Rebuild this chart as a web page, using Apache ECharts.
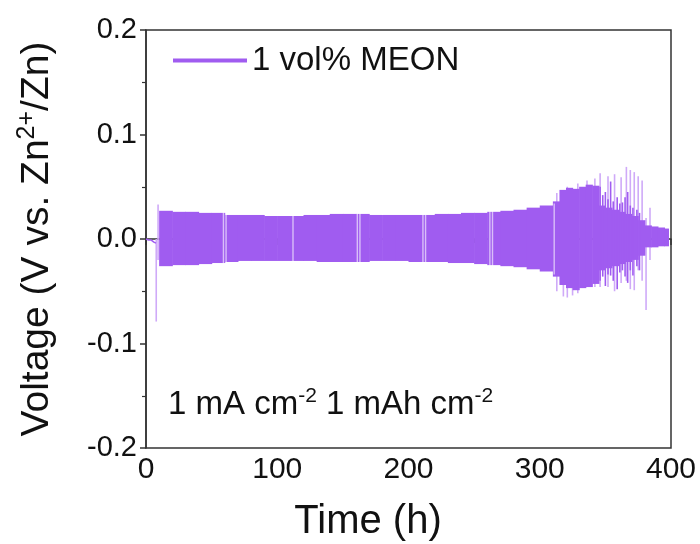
<!DOCTYPE html>
<html><head><meta charset="utf-8">
<script src="https://cdn.jsdelivr.net/npm/echarts@6/dist/echarts.min.js"></script>
<style>html,body{margin:0;padding:0;background:#fff}#c{width:700px;height:544px}</style>
</head><body><div id="c"></div>
<script>
// ---- data ----
const seriesName = '1 vol% MEON';
const xTicks = [0, 100, 200, 300, 400];
const yTicks = [-0.2, -0.1, 0.0, 0.1, 0.2];
// initial rest segment (time h, voltage V)
const initT = [0, 2, 4, 6, 7.6];
const initV = [0.000, -0.001, -0.001, -0.003, -0.004];
// envelope of the cycling band: bin edges (h), upper / lower voltage per bin (V)
const bandT = [10,20,30,40,50,60,70,80,90,100,110,120,130,140,150,160,170,180,190,200,210,220,230,240,250,260,270,280,290,300,310,315,320,325,330,335,340,345,350,355,360,365,370,375,380,385,390,395,398];
const bandHi = [0.027,0.026,0.026,0.025,0.025,0.023,0.023,0.023,0.022,0.022,0.022,0.023,0.023,0.024,0.024,0.024,0.023,0.023,0.023,0.023,0.023,0.024,0.024,0.025,0.025,0.026,0.027,0.028,0.030,0.032,0.036,0.047,0.049,0.048,0.050,0.052,0.051,0.032,0.030,0.028,0.026,0.024,0.022,0.018,0.013,0.012,0.011,0.010];
const bandLo = [-0.026,-0.025,-0.025,-0.024,-0.023,-0.022,-0.021,-0.021,-0.021,-0.021,-0.021,-0.021,-0.022,-0.022,-0.022,-0.022,-0.021,-0.021,-0.021,-0.022,-0.022,-0.022,-0.023,-0.023,-0.024,-0.025,-0.026,-0.027,-0.029,-0.031,-0.036,-0.044,-0.047,-0.049,-0.047,-0.046,-0.043,-0.030,-0.028,-0.026,-0.024,-0.022,-0.020,-0.016,-0.008,-0.008,-0.007,-0.007];
// isolated dark cycles (time, high, low)
const darkT  = [346, 348, 350, 352, 354, 356, 359, 361, 363, 365, 367, 369, 371, 374, 376];
const darkHi = [0.050, 0.042, 0.045, 0.038, 0.055, 0.036, 0.040, 0.034, 0.035, 0.040, 0.045, 0.032, 0.030, 0.028, 0.025];
const darkLo = [-0.040, -0.036, -0.045, -0.034, -0.035, -0.040, -0.048, -0.032, -0.030, -0.036, -0.042, -0.030, -0.035, -0.026, -0.030];
// isolated light spikes (time, high, low)
const spikeT  = [7.8, 9.2, 313, 318, 321, 325, 329, 336, 342, 346, 352, 357, 362, 366, 369, 372, 375, 378, 381, 384];
const spikeHi = [0.000, 0.033, 0.044, 0.040, 0.050, 0.045, 0.053, 0.056, 0.058, 0.063, 0.060, 0.062, 0.059, 0.069, 0.066, 0.064, 0.060, 0.056, 0.020, 0.030];
const spikeLo = [-0.079, -0.020, -0.050, -0.055, -0.056, -0.054, -0.052, -0.045, -0.046, -0.046, -0.046, -0.050, -0.042, -0.040, -0.048, -0.049, -0.030, -0.040, -0.068, -0.020];
// interruptions in the band (time h)
const gapT = [59, 61, 112, 161, 163, 211, 213, 262, 264, 311];

// ---- chart ----
const FONT = "'Liberation Sans', Arial, sans-serif";
const MAIN = '#a05cf0';
const LIGHT = '#cfaaf8';

const bandData = bandHi.map((h, i) => [bandT[i], bandT[i + 1], h, bandLo[i]]);
const darkData = darkT.map((t, i) => [t, darkHi[i], darkLo[i]]);
const spikeData = spikeT.map((t, i) => [t, spikeHi[i], spikeLo[i]]);
const gapData = gapT.map(t => [t, 0.034, -0.034]);
const initData = initT.map((t, i) => [t, initV[i]]);

function vline(color, width) {
  return function (params, api) {
    const a = api.coord([api.value(0), api.value(1)]);
    const b = api.coord([api.value(0), api.value(2)]);
    return { type: 'line', shape: { x1: a[0], y1: a[1], x2: b[0], y2: b[1] },
      style: { stroke: color, lineWidth: width } };
  };
}

const chart = echarts.init(document.getElementById('c'), null, { renderer: 'canvas' });
chart.setOption({
  animation: false,
  backgroundColor: '#fff',
  grid: { left: 146, right: 29, top: 30, bottom: 96, show: true, borderColor: '#333', borderWidth: 1.5, backgroundColor: 'transparent' },
  legend: {
    data: [seriesName], left: 173, top: 44, padding: 0, icon: 'rect', itemWidth: 74, itemHeight: 4,
    textStyle: { fontFamily: FONT, fontSize: 33, color: '#111' }
  },
  xAxis: {
    type: 'value', min: xTicks[0], max: xTicks[xTicks.length - 1], interval: 100,
    axisLine: { show: true, lineStyle: { color: '#333', width: 1.5 } },
    axisTick: { show: true, inside: false, length: 6, lineStyle: { color: '#333', width: 1.5 } },
    minorTick: { show: true, splitNumber: 2, length: 4, lineStyle: { color: '#333', width: 1.2 } },
    splitLine: { show: false },
    axisLabel: { fontFamily: FONT, fontSize: 30, color: '#111', margin: 7 }
  },
  yAxis: {
    type: 'value', min: yTicks[0], max: yTicks[yTicks.length - 1], interval: 0.1,
    name: 'Voltage (V vs. Zn{sup|2+}/Zn)', nameLocation: 'middle', nameGap: 86,
    nameTextStyle: { fontFamily: FONT, fontSize: 39, color: '#111',
      rich: { sup: { fontFamily: FONT, fontSize: 25, color: '#111', verticalAlign: 'top', padding: [0, 0, 20, 0] } } },
    axisLine: { show: true, lineStyle: { color: '#333', width: 1.5 } },
    axisTick: { show: true, inside: false, length: 6, lineStyle: { color: '#333', width: 1.5 } },
    minorTick: { show: true, splitNumber: 2, length: 4, lineStyle: { color: '#333', width: 1.2 } },
    splitLine: { show: false },
    axisLabel: { fontFamily: FONT, fontSize: 29, color: '#111', margin: 9, formatter: v => v.toFixed(1) }
  },
  graphic: [
    { type: 'text', style: {
        text: 'Time (h)', x: 368, y: 522, align: 'center', verticalAlign: 'middle',
        font: "40px 'Liberation Sans', Arial, sans-serif", fill: '#111' } },
    { type: 'text', style: {
        text: '1 mA cm{sup|-2} 1 mAh cm{sup|-2}', x: 168, y: 405, verticalAlign: 'middle',
        font: "33px 'Liberation Sans', Arial, sans-serif", fill: '#111',
        rich: { sup: { fontSize: 21, fontFamily: FONT, fill: '#111', padding: [0, 0, 17, 0] } } } }
  ],
  series: [
    { name: seriesName, type: 'line', data: initData, showSymbol: false, color: MAIN,
      lineStyle: { color: MAIN, width: 1.5 }, z: 3 },
    { type: 'custom', data: bandData, encode: { x: [0, 1], y: [2, 3] }, clip: true, z: 2,
      renderItem: function (params, api) {
        const p0 = api.coord([api.value(0), api.value(2)]);
        const p1 = api.coord([api.value(1), api.value(3)]);
        return { type: 'rect', shape: { x: p0[0], y: p0[1], width: p1[0] - p0[0] + 0.6, height: p1[1] - p0[1] },
          style: { fill: MAIN } };
      } },
    { type: 'custom', data: spikeData, encode: { x: 0, y: [1, 2] }, clip: true, z: 1, renderItem: vline(LIGHT, 1.6) },
    { type: 'custom', data: darkData, encode: { x: 0, y: [1, 2] }, clip: true, z: 2, renderItem: vline(MAIN, 1.6) },
    { type: 'custom', data: gapData, encode: { x: 0, y: [1, 2] }, clip: true, z: 4, renderItem: vline('rgba(255,255,255,0.6)', 1.4) }
  ]
});
</script></body></html>
